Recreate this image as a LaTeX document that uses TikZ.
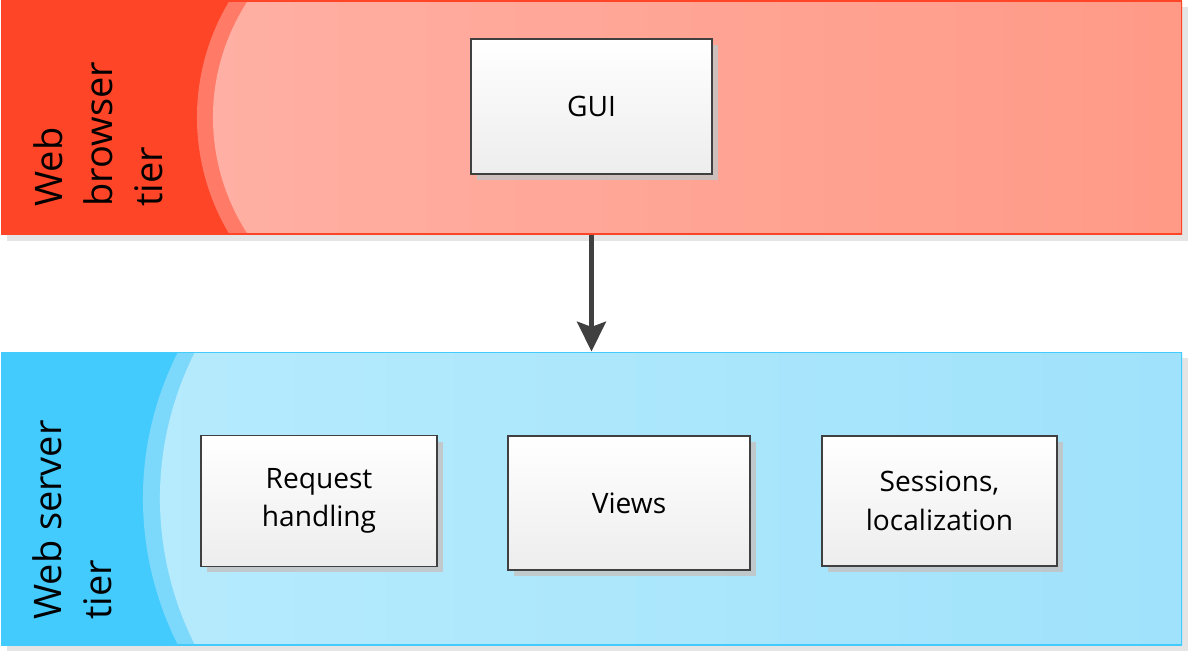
\documentclass[tikz,border=0pt]{standalone}
\usepackage{fontspec}
\setmainfont{Open Sans}
\usetikzlibrary{arrows.meta,positioning,shadows}

\definecolor{browserdark}{HTML}{FF4527}
\definecolor{browsermid}{HTML}{FF7B68}
\definecolor{browserleft}{HTML}{FFB0A4}
\definecolor{browserright}{HTML}{FF9986}
\definecolor{serverdark}{HTML}{43CBFE}
\definecolor{servermid}{HTML}{7DD9FC}
\definecolor{serverleft}{HTML}{B7EBFD}
\definecolor{serverright}{HTML}{9FE2FB}
\definecolor{panelshadow}{HTML}{E5E5E5}
\definecolor{boxshadow}{HTML}{C4C4C4}
\definecolor{boxline}{HTML}{404040}
\definecolor{boxbottom}{HTML}{EDEDED}

\begin{document}
\begin{tikzpicture}[x=0.02cm, y=-0.02cm,
   >={Stealth[length=17pt, width=16.5pt, inset=3pt]},
   tier/.style={rectangle, inner sep=0, minimum width=23.62cm, draw, line width=0.6pt},
   tierlabel/.style={rotate=90, align=left, inner sep=0, anchor=north west,
      font=\fontsize{21.6}{28.5}\selectfont},
   part/.style={rectangle, draw=boxline, line width=0.7pt, top color=white,
      bottom color=boxbottom, minimum width=4.8cm, minimum height=2.66cm,
      align=center, font=\fontsize{16}{22}\selectfont,
      general shadow={fill=boxshadow, opacity=0.85, shadow xshift=0.12cm, shadow yshift=-0.12cm}}]
   \useasboundingbox (0,0) rectangle (1188,653);

   % browser tier
   \fill[panelshadow] (7,7) rectangle (1188,241);
   \begin{scope}
      \clip (1,1) rectangle (1182,234);
      \fill[browserdark] (1,1) rectangle (1182,234);
      \fill[browsermid] (423,117.5) ++(120:226) arc[start angle=120, end angle=240, radius=226]
         -- (1200,-120) -- (1200,330) -- cycle;
      \shade[left color=browserleft, right color=browserright] (426,117.5) ++(120:213)
         arc[start angle=120, end angle=240, radius=213] -- (1200,-120) -- (1200,330) -- cycle;
   \end{scope}
   \node (browser) at (591.5,117.5) [tier, draw=browserdark, minimum height=4.66cm] {};
   \node (browserlabel) at (33,207) [tierlabel] {Web\\browser\\tier};

   % server tier
   \fill[panelshadow] (7,358) rectangle (1188,651);
   \begin{scope}
      \clip (1,352) rectangle (1182,645);
      \fill[serverdark] (1,352) rectangle (1182,645);
      \fill[servermid] (467,498.5) ++(120:324) arc[start angle=120, end angle=240, radius=324]
         -- (1200,100) -- (1200,900) -- cycle;
      \shade[left color=serverleft, right color=serverright] (484,498.5) ++(120:324)
         arc[start angle=120, end angle=240, radius=324] -- (1200,100) -- (1200,900) -- cycle;
   \end{scope}
   \node (server) at (591.5,498.5) [tier, draw=serverdark, minimum height=5.86cm] {};
   \node (serverlabel) at (32,620) [tierlabel] {Web server\\tier};

   % components
   \node (gui) at (591.5,106.5) [part, minimum width=4.82cm, minimum height=2.7cm] {GUI};
   \node (request) at (319,501) [part, minimum width=4.72cm, minimum height=2.62cm] {Request\\handling};
   \node (views) at (629,503) [part, minimum width=4.84cm, minimum height=2.68cm] {Views};
   \node (sessions) at (939.5,501) [part, minimum width=4.7cm, minimum height=2.6cm] {Sessions,\\localization};

   \draw[->, line width=2.3pt, draw=boxline] (gui |- browser.south) -- (gui |- server.north);
\end{tikzpicture}
\end{document}
